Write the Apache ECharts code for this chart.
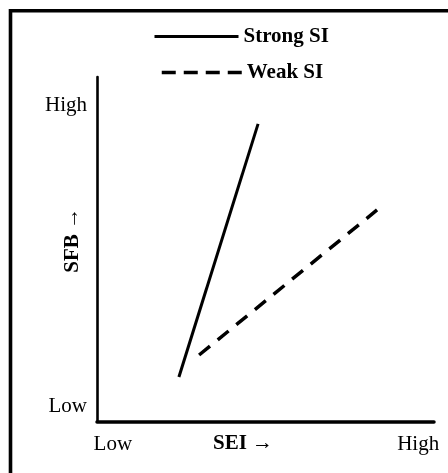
<!DOCTYPE html>
<html>
<head>
<meta charset="utf-8">
<script src="https://cdn.jsdelivr.net/npm/echarts@6/dist/echarts.min.js"></script>
<style>
html,body{margin:0;padding:0;background:#fff;}
#chart{width:448px;height:473px;}
</style>
</head>
<body>
<div id="chart"></div>
<script>
// Conceptual chart: values on a 0-100 scale (Low -> High)
const seriesNames = ['Strong SI', 'Weak SI'];
const strongX = [24.3, 47.8];
const strongY = [12.9, 86.4];
const weakX = [30.3, 83.1];
const weakY = [19.3, 61.4];
const xTickValues = [4.7, 95.3];
const xTickLabels = ['Low', 'High'];
const yTickValues = [4.4, 91.8];
const yTickLabels = ['Low', 'High'];
const xAxisName = 'SEI \u2192';
const yAxisName = 'SFB \u2192';

const FONT = 'Liberation Serif';
const chart = echarts.init(document.getElementById('chart'), null, {renderer: 'canvas'});

function pairs(xs, ys) { return xs.map((x, i) => [x, ys[i]]); }
function lookup(vals, labels) {
  return function (v) {
    for (let i = 0; i < vals.length; i++) if (Math.abs(vals[i] - v) < 1e-6) return labels[i];
    return '';
  };
}

const legendText = {fontFamily: FONT, fontSize: 21, fontWeight: 'bold', color: '#000'};
const hiddenSymbol = {color: 'rgba(0,0,0,0)', borderWidth: 0, opacity: 0};

chart.setOption({
  animation: false,
  backgroundColor: '#fff',
  graphic: [{
    type: 'rect',
    shape: {x: 10.5, y: 10.8, width: 480, height: 520},
    style: {fill: 'none', stroke: '#000', lineWidth: 3.6},
    silent: true
  }],
  legend: [{
    data: [seriesNames[0]],
    left: 153, top: 26, padding: 0,
    itemWidth: 84, itemHeight: 22,
    textStyle: legendText,
    itemStyle: hiddenSymbol,
    lineStyle: {width: 3}
  }, {
    data: [seriesNames[1]],
    left: 160, top: 62, padding: 0,
    itemWidth: 80, itemHeight: 22,
    textStyle: legendText,
    itemStyle: hiddenSymbol,
    lineStyle: {width: 3.5, type: [14, 8]}
  }],
  grid: {left: 97, right: 14, top: 77, bottom: 473 - 421.5, outerBoundsMode: 'none'},
  xAxis: {
    type: 'value', min: 0, max: 100,
    splitLine: {show: false},
    axisTick: {show: false},
    axisLine: {show: true, onZero: false, lineStyle: {color: '#000', width: 3.5}},
    axisLabel: {
      customValues: xTickValues,
      formatter: lookup(xTickValues, xTickLabels),
      margin: 12, fontFamily: FONT, fontSize: 21, color: '#000'
    },
    name: xAxisName, nameLocation: 'middle', nameGap: 12, nameMoveOverlap: false,
    nameTextStyle: {fontFamily: FONT, fontSize: 21, fontWeight: 'bold', color: '#000', padding: [0, 45, 0, 0]}
  },
  yAxis: {
    type: 'value', min: 0, max: 100,
    splitLine: {show: false},
    axisTick: {show: false},
    axisLine: {show: true, onZero: false, lineStyle: {color: '#000', width: 2.6}},
    axisLabel: {
      customValues: yTickValues,
      formatter: lookup(yTickValues, yTickLabels),
      margin: 10, fontFamily: FONT, fontSize: 21, color: '#000'
    },
    name: yAxisName, nameLocation: 'middle', nameGap: 14, nameRotate: 90, nameMoveOverlap: false,
    nameTextStyle: {fontFamily: FONT, fontSize: 21, fontWeight: 'bold', color: '#000', padding: [0, 0, 0, 18]}
  },
  series: [{
    name: seriesNames[0], type: 'line', symbol: 'none',
    data: pairs(strongX, strongY),
    lineStyle: {color: '#000', width: 3}
  }, {
    name: seriesNames[1], type: 'line', symbol: 'none',
    data: pairs(weakX, weakY),
    lineStyle: {color: '#000', width: 3.5, type: [14, 10]}
  }]
});
</script>
</body>
</html>
